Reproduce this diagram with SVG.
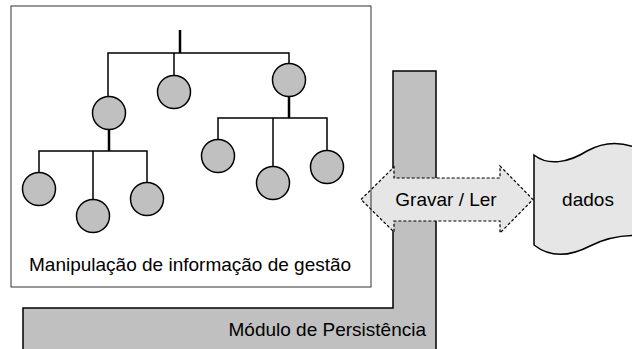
<svg xmlns="http://www.w3.org/2000/svg" width="632" height="349" viewBox="0 0 632 349">
<style>
.txt{font-family:"Liberation Sans",Arial,sans-serif;font-size:19px;fill:#000}
.node{fill:#c0c0c0;stroke:#000;stroke-width:1.5}
.ln{stroke:#000;stroke-width:1.5;fill:none}
.thick{stroke:#000;stroke-width:2.5;fill:none}
</style>
<rect width="632" height="349" fill="#fff"/>
<g id="persistencia">
<path d="M393,71 L436,71 L436,352 L23,352 L23,308 L393,308 Z" fill="#c0c0c0" stroke="#000" stroke-width="1.5"/>
<text class="txt" x="426" y="336" text-anchor="end">Módulo de Persistência</text>
</g>
<g id="gravar-ler">
<path d="M361,199.5 L394,167 L394,178 L500,178 L500,166 L533,199.5 L500,233 L500,221 L394,221 L394,232 Z" fill="#e6e6e6" stroke="#000" stroke-width="1.2" stroke-dasharray="3,2"/>
<text class="txt" x="446" y="206" text-anchor="middle">Gravar / Ler</text>
</g>
<g id="dados">
<path d="M645,152 C625,141 605,141 587,151 C568,163 548,166 534,155 L534,245 C548,256 567,258 590,246 C606,238 622,234 645,236" fill="#e6e6e6" stroke="#000" stroke-width="1.5"/>
<text class="txt" x="588" y="206" text-anchor="middle">dados</text>
</g>
<g id="gestao">
<rect x="11" y="6" width="360" height="281" fill="none" stroke="#333" stroke-width="1"/>
<text class="txt" x="29" y="271">Manipulação de informação de gestão</text>
</g>
<g id="connectors">
<line class="thick" x1="180" y1="30" x2="180" y2="53"/>
<path class="ln" d="M108,96 L108,53 L289,53 L289,63"/>
<line class="ln" x1="174" y1="53" x2="174" y2="75"/>
<line class="thick" x1="109" y1="130" x2="109" y2="151"/>
<path class="ln" d="M39,172 L39,151 L147,151 L147,182"/>
<line class="ln" x1="93" y1="151" x2="93" y2="199"/>
<line class="thick" x1="289" y1="97" x2="289" y2="118"/>
<path class="ln" d="M218,139 L218,118 L327,118 L327,150"/>
<line class="ln" x1="273" y1="118" x2="273" y2="166"/>
</g>
<g id="n-root-mid"><circle class="node" cx="174" cy="92" r="16.5"/></g>
<g id="n-left"><circle class="node" cx="109" cy="113" r="16.5"/></g>
<g id="n-right"><circle class="node" cx="289" cy="80" r="16.5"/></g>
<g id="n-l1"><circle class="node" cx="39" cy="189" r="16.5"/></g>
<g id="n-l2"><circle class="node" cx="93" cy="216" r="16.5"/></g>
<g id="n-l3"><circle class="node" cx="147" cy="199" r="16.5"/></g>
<g id="n-r1"><circle class="node" cx="218" cy="156" r="16.5"/></g>
<g id="n-r2"><circle class="node" cx="273" cy="183" r="16.5"/></g>
<g id="n-r3"><circle class="node" cx="327" cy="167" r="16.5"/></g>
</svg>
